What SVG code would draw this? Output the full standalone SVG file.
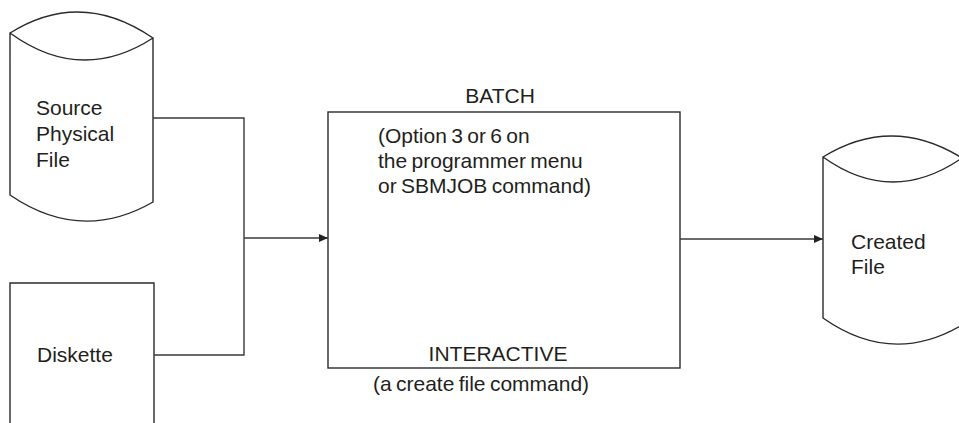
<svg xmlns="http://www.w3.org/2000/svg" width="959" height="423" viewBox="0 0 959 423">
<style>
.s{fill:none;stroke:#2a2a2a;stroke-width:1.4}
.c{fill:none;stroke:#3a3a3a;stroke-width:1.4}
.t{font-family:"Liberation Sans",Arial,sans-serif;font-size:21px;fill:#231f20}
.w{word-spacing:-1.5px}
</style>
<defs>
<marker id="ah" markerWidth="9" markerHeight="8" refX="9" refY="4" orient="auto" markerUnits="userSpaceOnUse">
<path d="M0,0 L9,4 L0,8 Z" fill="#222"/>
</marker>
</defs>
<rect width="959" height="423" fill="#fff"/>
<g id="source">
<path class="s" d="M10,33 Q81,-11.5 153,38 Q81,84.5 10,33 Z M10,33 L10,195 Q81,243.5 153,202 L153,38"/>
<text class="t" x="36" y="115">Source</text>
<text class="t" x="36" y="141">Physical</text>
<text class="t" x="36" y="167">File</text>
</g>
<g id="diskette">
<path class="s" d="M10,425 L10,283 L154,283 L154,425"/>
<text class="t" x="37" y="362">Diskette</text>
</g>
<g id="process">
<rect class="s" x="328" y="112" width="352" height="256"/>
<text class="t" x="500" y="103" text-anchor="middle">BATCH</text>
<text class="t w" x="378" y="143">(Option 3 or 6 on</text>
<text class="t w" x="378" y="168">the programmer menu</text>
<text class="t w" x="378" y="193">or SBMJOB command)</text>
<text class="t" x="498" y="361" text-anchor="middle">INTERACTIVE</text>
<text class="t w" x="373" y="391">(a create file command)</text>
</g>
<g id="created">
<path class="s" d="M823,157 Q892,114.5 962,158 Q892,206.5 823,157 Z M823,157 L823,318 Q892,366.5 962,325"/>
<text class="t" x="851" y="249">Created</text>
<text class="t" x="851" y="274">File</text>
</g>
<g id="connectors">
<path class="c" d="M153,118 L244,118 L244,355 L154,355"/>
<path class="c" d="M244,238 L328,238" marker-end="url(#ah)"/>
<path class="c" d="M680,239 L823,239" marker-end="url(#ah)"/>
</g>
</svg>
